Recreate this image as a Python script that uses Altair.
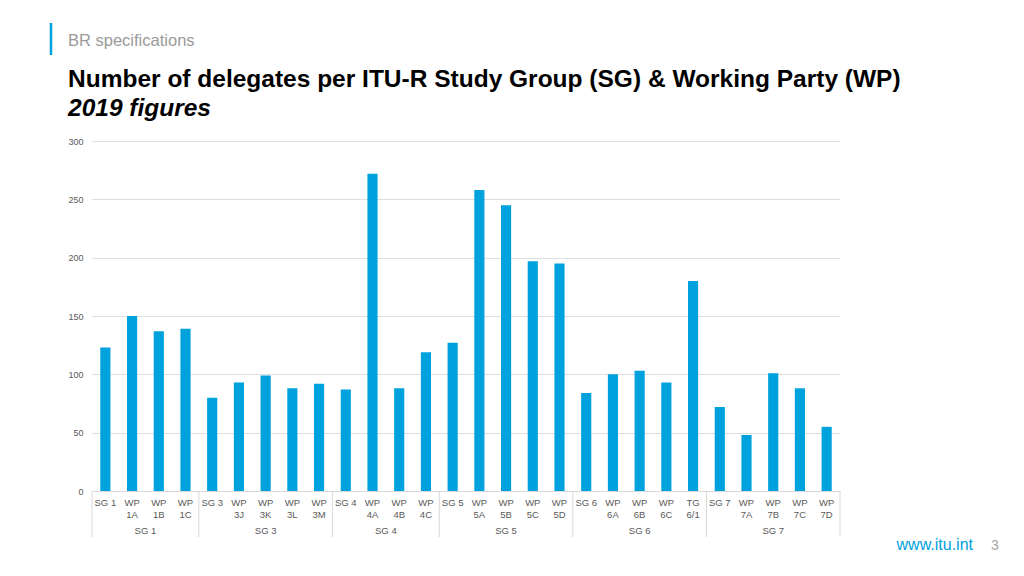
import altair as alt
import pandas as pd

categories = ["SG 1", "WP 1A", "WP 1B", "WP 1C",
              "SG 3", "WP 3J", "WP 3K", "WP 3L", "WP 3M",
              "SG 4", "WP 4A", "WP 4B", "WP 4C",
              "SG 5", "WP 5A", "WP 5B", "WP 5C", "WP 5D",
              "SG 6", "WP 6A", "WP 6B", "WP 6C", "TG 6/1",
              "SG 7", "WP 7A", "WP 7B", "WP 7C", "WP 7D"]
delegates = [123, 150, 137, 139,
             80, 93, 99, 88, 92,
             87, 272, 88, 119,
             127, 258, 245, 197, 195,
             84, 100, 103, 93, 180,
             72, 48, 101, 88, 55]
group_names = ["SG 1", "SG 3", "SG 4", "SG 5", "SG 6", "SG 7"]
group_sizes = [4, 5, 4, 5, 5, 5]
y_ticks = [0, 50, 100, 150, 200, 250, 300]

W, H = 748, 350
N = len(categories)
BLUE = "#00a2de"
GREY = "#595959"
FONT = "Liberation Sans"

bars_df = pd.DataFrame({"cat": categories, "value": delegates})

starts = []
s = 0
for n in group_sizes:
    starts.append(s)
    s += n
bounds_df = pd.DataFrame({"pos": starts + [s]})
groups_df = pd.DataFrame({"name": group_names, "start": starts, "size": group_sizes})

bars = alt.Chart(bars_df).mark_bar(color=BLUE, width=alt.RelativeBandSize(0.38)).encode(
    x=alt.X("cat:N", sort=categories,
            scale=alt.Scale(paddingInner=0, paddingOuter=0),
            axis=alt.Axis(title=None, labelAngle=0, ticks=False, domainColor="#d9d9d9",
                          labelColor=GREY, labelFontSize=9.5, labelFont=FONT, labelPadding=6,
                          labelLineHeight=12,
                          labelExpr="indexof(datum.label,'SG')==0 ? datum.label : split(datum.label,' ')")),
    y=alt.Y("value:Q", scale=alt.Scale(domain=[0, 300], nice=False),
            axis=alt.Axis(title=None, values=y_ticks, domain=False, ticks=False,
                          labelColor=GREY, labelFontSize=9, labelFont=FONT, labelPadding=9,
                          gridColor="#dedede")),
)

qscale = alt.Scale(domain=[0, N], nice=False, zero=False)

seps = alt.Chart(bounds_df).mark_rule(color="#d9d9d9", strokeWidth=1).encode(
    x=alt.X("pos:Q", scale=qscale, axis=None),
    y=alt.value(H), y2=alt.value(H + 46),
)

glabels = alt.Chart(groups_df).transform_calculate(
    mid="datum.start + datum.size / 2"
).mark_text(color=GREY, fontSize=9.5, font=FONT, baseline="alphabetic").encode(
    x=alt.X("mid:Q", scale=qscale, axis=None),
    y=alt.value(H + 43),
    text="name:N",
)

one = alt.Data(values=[{"a": 1}])

accent = alt.Chart(one).mark_rule(color=BLUE, strokeWidth=2.5).encode(
    x=alt.value(-41), y=alt.value(-118), y2=alt.value(-86))
section = alt.Chart(one).mark_text(text="BR specifications", color="#9a9a9a", fontSize=16.5,
                                   font=FONT, align="left", baseline="alphabetic").encode(
    x=alt.value(-24), y=alt.value(-95))
title = alt.Chart(one).mark_text(
    text="Number of delegates per ITU-R Study Group (SG) & Working Party (WP)",
    color="#000000", fontSize=24.5, fontWeight="bold", font=FONT, align="left",
    baseline="alphabetic").encode(x=alt.value(-24), y=alt.value(-54))
subtitle = alt.Chart(one).mark_text(
    text="2019 figures", color="#000000", fontSize=24.5, fontWeight="bold", fontStyle="italic",
    font=FONT, align="left", baseline="alphabetic").encode(x=alt.value(-24), y=alt.value(-25))
site = alt.Chart(one).mark_text(text="www.itu.int", color=BLUE, fontSize=16, font=FONT,
                                align="right", baseline="alphabetic").encode(
    x=alt.value(881), y=alt.value(409))
page = alt.Chart(one).mark_text(text="3", color="#a6a6a6", fontSize=14, font=FONT,
                                align="center", baseline="alphabetic").encode(
    x=alt.value(903), y=alt.value(409))

chart = alt.layer(bars, seps, glabels, accent, section, title, subtitle, site, page).resolve_scale(
    x="independent"
).properties(
    width=W, height=H,
    autosize=alt.AutoSizeParams(type="none"),
    padding={"left": 84, "top": 133, "right": 176, "bottom": 68},
    background="white",
).configure_view(stroke=None)

chart.save("out.html", embed_options={"renderer": "svg", "actions": False})
